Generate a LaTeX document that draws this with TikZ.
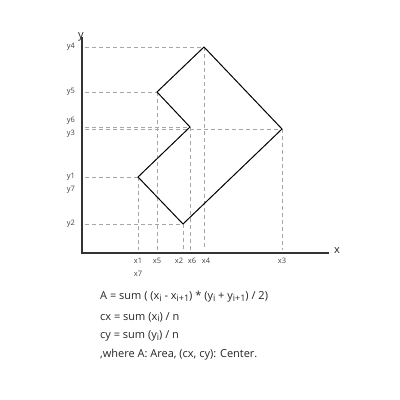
\documentclass[tikz,border=0pt]{standalone}
\usepackage{fontspec}
\setmainfont{Open Sans}
\begin{document}
\begin{tikzpicture}[x=1pt,y=-1pt,
  guide/.style={draw=black!35,dash pattern=on 4pt off 3pt,line width=0.6pt},
  axisline/.style={draw=black!80,line width=1.2pt},
  polyline/.style={draw=black,line width=1pt,line join=miter},
  ticklab/.style={font=\fontsize{7.5}{8}\selectfont,text=black!75,inner sep=0pt},
  formula/.style={font=\fontsize{11}{13}\selectfont,text=black!85,anchor=west,inner sep=0pt}]
\useasboundingbox (0,0) rectangle (400,400);
% axes
\coordinate (o) at (82,253);
\coordinate (xend) at (329,253);
\coordinate (yend) at (82,37);
\draw[axisline] (yend) -- (o) -- (xend);
\node[font=\fontsize{11}{12}\selectfont,inner sep=0pt,text=black!85] (xl) at (337,251) {x};
\node[font=\fontsize{11}{12}\selectfont,inner sep=0pt,text=black!85] (yl) at (81,37) {y};
% points
\coordinate (p1) at (138,177);
\coordinate (p2) at (183,224);
\coordinate (p3) at (282,129);
\coordinate (p4) at (204,47);
\coordinate (p5) at (157,92);
\coordinate (p6) at (190,127);
% guides
\foreach \p in {p1,p2,p3,p4,p5,p6}{
  \draw[guide] (85,0 |- \p) -- (\p);
  \draw[guide] (\p) -- (\p |- 0,250);
}
% polygon
\draw[polyline] (p1) -- (p2) -- (p3) -- (p4) -- (p5) -- (p6) -- cycle;
% y labels
\node[ticklab] (ly4) at (71,47) {y4};
\node[ticklab] (ly5) at (71,92) {y5};
\node[ticklab] (ly6) at (71,121) {y6};
\node[ticklab] (ly3) at (71,134) {y3};
\node[ticklab] (ly1) at (71,177) {y1};
\node[ticklab] (ly7) at (71,190) {y7};
\node[ticklab] (ly2) at (71,224) {y2};
% x labels
\node[ticklab] (lx1) at (138,261) {x1};
\node[ticklab] (lx7) at (138,274) {x7};
\node[ticklab] (lx5) at (157,261) {x5};
\node[ticklab] (lx2) at (179,261) {x2};
\node[ticklab] (lx6) at (192,261) {x6};
\node[ticklab] (lx4) at (206,261) {x4};
\node[ticklab] (lx3) at (282,261) {x3};
% formulas
\newcommand{\sbs}[1]{\raisebox{-0.25ex}{\fontsize{9}{10}\selectfont #1}}
\node[formula] (f1) at (100,297) {A = sum ( (x\sbs{i} - x\sbs{i+1}) * (y\sbs{i} + y\sbs{i+1}) / 2)};
\node[formula] (f2) at (100,317) {cx = sum (x\sbs{i}) / n};
\node[formula] (f3) at (100,336) {cy = sum (y\sbs{i}) / n};
\node[formula] (f4) at (100,355) {,where A: Area, (cx, cy): Center.};
\end{tikzpicture}
\end{document}
